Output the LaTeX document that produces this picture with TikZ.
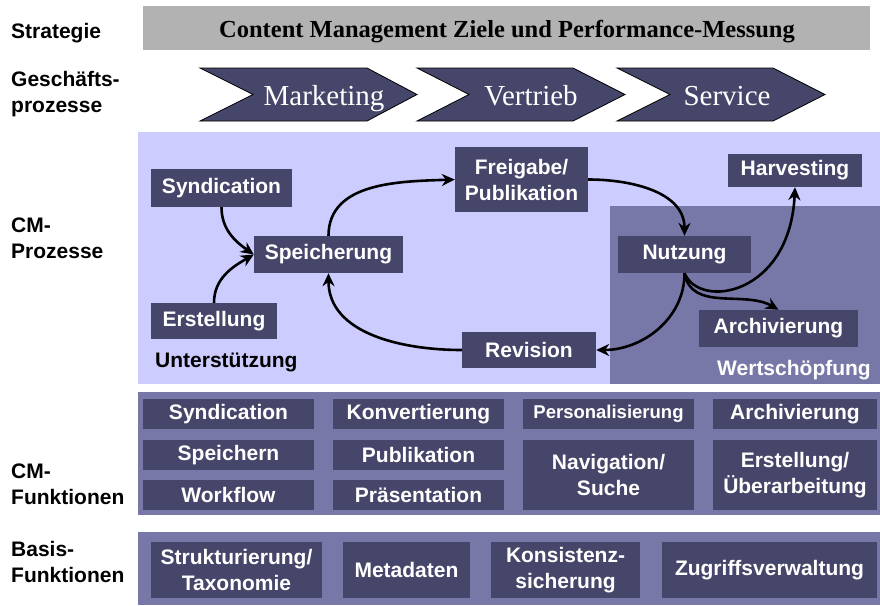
\documentclass[tikz,border=0pt]{standalone}
\usepackage{fontspec}
\setmainfont{Liberation Serif}
\setsansfont{Liberation Sans}
\usetikzlibrary{arrows.meta}

\definecolor{cmdark}{RGB}{70,70,106}
\definecolor{cmlight}{RGB}{204,204,255}
\definecolor{cmmid}{RGB}{120,120,168}
\definecolor{cmgray}{RGB}{178,178,178}

\newcommand{\cmfont}{\sffamily\bfseries\fontsize{21}{26}\selectfont}
\newcommand{\cmsmall}{\sffamily\bfseries\fontsize{18.5}{22}\selectfont}

\begin{document}
\begin{tikzpicture}[
    x=1pt, y=1pt,
    rowlabel/.style={anchor=base west, align=left, inner sep=0pt, font=\cmfont},
    proc/.style={rectangle, fill=cmdark, text=white, font=\cmfont, align=center, inner sep=0pt},
    boxsize/.style 2 args={minimum width=#1pt, minimum height=#2pt},
    chevron/.style={fill=cmdark, draw=black, line width=0.8pt},
    chevtext/.style={anchor=base, text=white, font=\rmfamily\fontsize{29}{34}\selectfont, inner sep=0pt},
    flow/.style={draw, line width=2.6pt, -{Stealth[length=13pt, width=12pt]}}
]
\useasboundingbox (0,0) rectangle (880,-605);

% --- Zeilenbeschriftungen (Basislinie der letzten Zeile) ---
\node[rowlabel] (lstrat) at (11,-38) {Strategie};
\node[rowlabel] (lgp) at (11,-112) {Geschäfts-\\prozesse};
\node[rowlabel] (lcmp) at (11,-258) {CM-\\Prozesse};
\node[rowlabel] (lcmf) at (11,-504) {CM-\\Funktionen};
\node[rowlabel] (lbasis) at (11,-582) {Basis-\\Funktionen};

% --- Strategie ---
\fill[cmgray] (143,-6) rectangle (870,-50);
\node[font=\rmfamily\bfseries\fontsize{24.5}{28}\selectfont, anchor=base] (ziele) at (507,-37)
    {Content Management Ziele und Performance-Messung};

% --- Geschaeftsprozesse ---
\draw[chevron] (200,-68) -- (367,-68) -- (417,-94.5) -- (367,-121) -- (200,-121) -- (253,-94.5) -- cycle;
\draw[chevron] (417,-68) -- (573,-68) -- (625,-94.5) -- (573,-121) -- (417,-121) -- (469,-94.5) -- cycle;
\draw[chevron] (617,-68) -- (773,-68) -- (825,-94.5) -- (773,-121) -- (617,-121) -- (670,-94.5) -- cycle;
\node[chevtext] (mkt) at (324,-105) {Marketing};
\node[chevtext] (vtr) at (531,-105) {Vertrieb};
\node[chevtext] (srv) at (727,-105) {Service};

% --- CM-Prozesse ---
\fill[cmlight] (138,-132) rectangle (880,-384);
\fill[cmmid] (610,-206) rectangle (880,-384);

\node[proc, boxsize={141}{38}] (synd) at (221.5,-188) {Syndication};
\node[proc, boxsize={126}{36}] (erst) at (214,-321) {Erstellung};
\node[proc, boxsize={149}{37}] (speich) at (328.5,-254.5) {Speicherung};
\node[proc, boxsize={133}{65}] (frei) at (521.5,-179.5) {Freigabe/\\Publikation};
\node[proc, boxsize={134}{36}] (rev) at (529,-350) {Revision};
\node[proc, boxsize={133}{37}] (nutz) at (684.5,-254.5) {Nutzung};
\node[proc, boxsize={134}{33}] (harv) at (795,-170.5) {Harvesting};
\node[proc, boxsize={159}{37}] (arch) at (778.5,-328.5) {Archivierung};

\node[anchor=base west, inner sep=0pt, font=\cmfont] (unterst) at (155,-367) {Unterstützung};
\node[anchor=base west, inner sep=0pt, font=\cmfont, text=white] (wertsch) at (717,-375) {Wertschöpfung};

% Kreislauf
\draw[flow] (synd.south) to[out=-90, in=145] (speich.west);
\draw[flow] (erst.north) to[out=90, in=210] (speich.west);
\draw[flow] (speich.north) to[out=90, in=182] (frei.west);
\draw[flow] (frei.east) to[out=0, in=90] (nutz.north);
\draw[flow] (nutz.south) to[out=-90, in=0] (rev.east);
\draw[flow] (rev.west) to[out=180, in=-90] (speich.south);
\draw[flow] (nutz.south) to[out=-80, in=150] (arch.north);
\draw[flow] (nutz.south) .. controls (700,-310) and (790,-295) .. (harv.south);

% --- CM-Funktionen ---
\fill[cmmid] (138,-392) rectangle (880,-515);

\node[proc, boxsize={171}{30}] (fsynd) at (228.5,-414) {Syndication};
\node[proc, boxsize={171}{30}] (fspeich) at (228.5,-455) {Speichern};
\node[proc, boxsize={171}{30}] (fwork) at (228.5,-495) {Workflow};
\node[proc, boxsize={171}{30}] (fkonv) at (418.5,-414) {Konvertierung};
\node[proc, boxsize={171}{30}] (fpubl) at (418.5,-455) {Publikation};
\node[proc, boxsize={171}{30}] (fpraes) at (418.5,-495) {Präsentation};
\node[proc, boxsize={171}{30}, font=\cmsmall] (fpers) at (608.5,-414) {Personalisierung};
\node[proc, boxsize={171}{70}] (fnavi) at (608.5,-475) {Navigation/\\Suche};
\node[proc, boxsize={164}{30}] (farch) at (795,-414) {Archivierung};
\node[proc, boxsize={164}{70}] (ferst) at (795,-475) {Erstellung/\\Überarbeitung};

% --- Basis-Funktionen ---
\fill[cmmid] (138,-532) rectangle (880,-605);

\node[proc, boxsize={171}{56}] (bstrukt) at (236.5,-570) {Strukturierung/\\Taxonomie};
\node[proc, boxsize={127}{56}] (bmeta) at (406.5,-570) {Metadaten};
\node[proc, boxsize={149}{56}] (bkons) at (565.5,-570) {Konsistenz-\\sicherung};
\node[proc, boxsize={215}{56}] (bzugr) at (769.5,-570) {Zugriffsverwaltung};
\end{tikzpicture}
\end{document}
